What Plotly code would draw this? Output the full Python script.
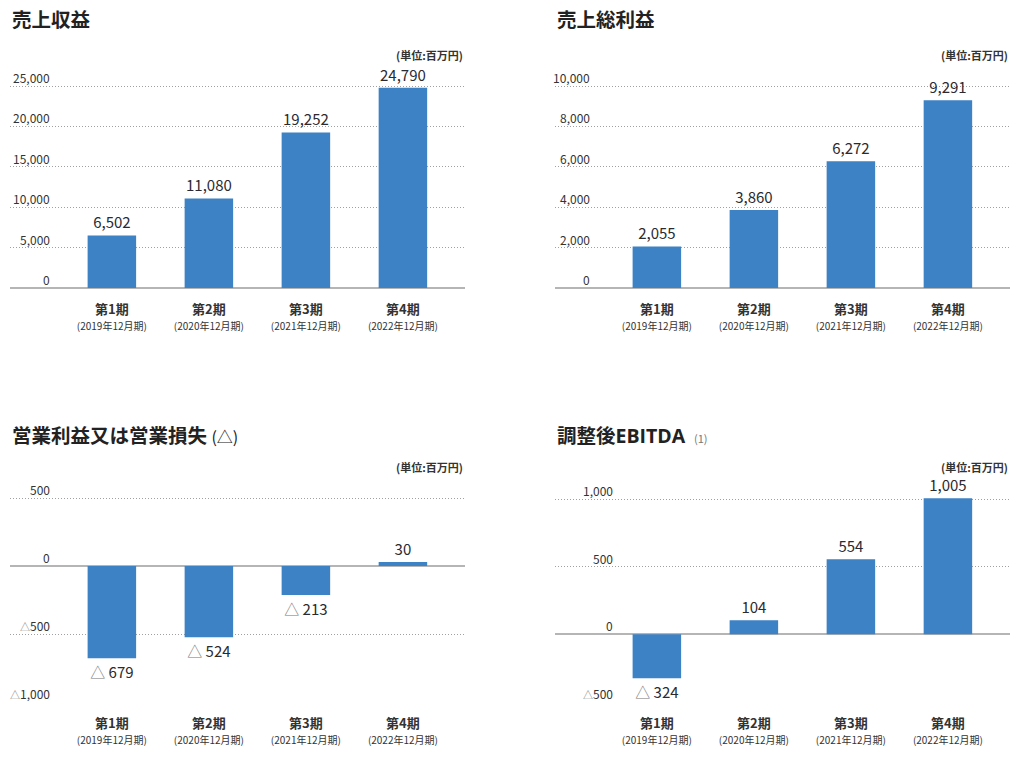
import plotly.graph_objects as go

# ---------------- data ----------------
periods = ["第1期", "第2期", "第3期", "第4期"]
fiscal = ["(2019年12月期)", "(2020年12月期)", "(2021年12月期)", "(2022年12月期)"]

revenue = [6502, 11080, 19252, 24790]
gross_profit = [2055, 3860, 6272, 9291]
operating_income = [-679, -524, -213, 30]
adj_ebitda = [-324, 104, 554, 1005]

revenue_ticks = [0, 5000, 10000, 15000, 20000, 25000]
gross_ticks = [0, 2000, 4000, 6000, 8000, 10000]
op_ticks = [-1000, -500, 0, 500]
ebitda_ticks = [-500, 0, 500, 1000]

titles = ["売上収益", "売上総利益", "営業利益又は営業損失",
          "調整後<span style='font-family:Open Sans'>EBITDA</span>"]
subtitles = ["", "", " <span style='font-size:16px'>(△)</span>",
             "  <span style='font-size:11px;color:#777'>(1)</span>"]
unit_label = "(単位:百万円)"

# ---------------- style ----------------
W, H = 1024, 758
FONT = "Noto Sans CJK JP"
BAR = "#3d82c4"
TXT = "#2a2a30"
GRID = "#a0a0a0"
ZERO = "#b5b5b5"


def tri(v, size):
    if v < 0:
        return f"<span style='font-size:{size}px;color:#8a8a8a'>△</span>{abs(v):,}"
    return f"{v:,}"


def tri_bar(v):
    if v < 0:
        return f"<span style='color:#777'>△</span> {abs(v):,}"
    return f"{v:,}"


# pixel placement: (low tick value, its px), (high tick value, its px), range top
panels = [
    dict(vals=revenue, ticks=revenue_ticks, lo=(0, 288), hi=(25000, 86), top=27000,
         xd=(10, 465), lab=52, ty=18, uy=55),
    dict(vals=gross_profit, ticks=gross_ticks, lo=(0, 288), hi=(10000, 86), top=10800,
         xd=(555, 1010), lab=592, ty=18, uy=55),
    dict(vals=operating_income, ticks=op_ticks, lo=(-1000, 702), hi=(500, 498), top=600,
         xd=(10, 465), lab=52, ty=434, uy=467),
    dict(vals=adj_ebitda, ticks=ebitda_ticks, lo=(-500, 702), hi=(1000, 499), top=1150,
         xd=(555, 1010), lab=615, ty=434, uy=467),
]

ticktext = [f"<b><span style='font-size:13px'>{p}</span></b><br>"
            f"<span style='font-size:10px;color:#333'>{f}</span>"
            for p, f in zip(periods, fiscal)]

fig = go.Figure()
annotations = []
layout = {}

for i, p in enumerate(panels):
    n = "" if i == 0 else str(i + 1)
    xa, ya = "x" + n, "y" + n
    fig.add_trace(go.Bar(
        x=periods, y=p["vals"], xaxis=xa, yaxis=ya,
        marker=dict(color=BAR, line=dict(width=0)),
        width=0.5,
        text=[tri_bar(v) for v in p["vals"]],
        textposition="outside", cliponaxis=False, constraintext="none",
        textfont=dict(family=FONT, size=15, color=TXT),
        hoverinfo="skip", showlegend=False,
    ))
    x0, x1 = p["xd"]
    (vlo, plo), (vhi, phi) = p["lo"], p["hi"]
    k = (plo - phi) / (vhi - vlo)
    ptop = plo - (p["top"] - vlo) * k
    layout["xaxis" + n] = dict(
        domain=[x0 / W, x1 / W], anchor=ya,
        range=[-1.05, 3.64], type="category",
        tickmode="array", tickvals=periods, ticktext=ticktext,
        tickfont=dict(family=FONT, size=12, color="#333"),
        ticklabelstandoff=13,
        showgrid=False, zeroline=False, showline=False, ticks="",
        fixedrange=True,
    )
    layout["yaxis" + n] = dict(
        domain=[1 - plo / H, 1 - ptop / H], anchor=xa,
        range=[vlo, p["top"]], tickmode="array", tickvals=p["ticks"],
        showticklabels=False, ticks="",
        showgrid=True, gridcolor=GRID, gridwidth=1, griddash="1px,2px",
        zeroline=True, zerolinecolor=ZERO, zerolinewidth=1.5,
        showline=False, fixedrange=True,
    )
    # y tick labels placed above the gridlines
    for t in p["ticks"]:
        annotations.append(dict(
            xref="paper", x=p["lab"] / W, xanchor="right",
            yref=ya, y=t, yanchor="bottom", yshift=-2,
            text=tri(t, 10), showarrow=False,
            font=dict(family=FONT, size=12, color="#333"),
        ))
    # title
    annotations.append(dict(
        xref="paper", x=x0 / W, xanchor="left",
        yref="paper", y=1 - p["ty"] / H, yanchor="middle",
        text=f"<b>{titles[i]}</b>{subtitles[i]}", showarrow=False,
        font=dict(family=FONT, size=19.5, color="#222"),
    ))
    # unit
    annotations.append(dict(
        xref="paper", x=x1 / W, xanchor="right",
        yref="paper", y=1 - p["uy"] / H, yanchor="middle",
        text=f"<b>{unit_label}</b>", showarrow=False,
        font=dict(family=FONT, size=11, color="#333"),
    ))

fig.update_layout(
    width=W, height=H,
    margin=dict(l=0, r=0, t=0, b=0),
    paper_bgcolor="white", plot_bgcolor="white",
    font=dict(family=FONT, color=TXT),
    annotations=annotations,
    bargap=0.5,
    **layout,
)

fig.write_html("out.html", config={"displayModeBar": False},
               post_script="document.body.style.margin='0';")
